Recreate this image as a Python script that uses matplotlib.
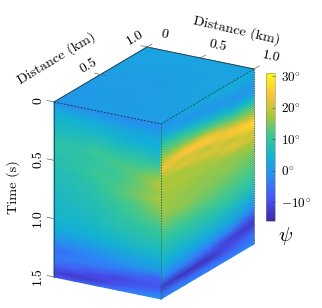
import matplotlib
matplotlib.use("Agg")
import matplotlib.pyplot as plt
import numpy as np
from matplotlib.colors import LinearSegmentedColormap, Normalize
from matplotlib.cm import ScalarMappable

plt.rcParams['font.family'] = ['cmr10', 'DejaVu Sans']
plt.rcParams['mathtext.fontset'] = 'cm'
plt.rcParams['axes.formatter.use_mathtext'] = True

# parula-like colours
parula = [(0.2422, 0.1504, 0.6603), (0.2810, 0.3228, 0.9579), (0.1786, 0.5289, 0.9682),
          (0.0689, 0.6948, 0.8394), (0.2161, 0.7843, 0.5923), (0.6720, 0.7793, 0.2227),
          (0.9970, 0.7659, 0.2199), (0.9769, 0.9839, 0.0805)]
cmap = LinearSegmentedColormap.from_list("parula", parula)
norm = Normalize(-16, 31)

# front-left face
dist_left = [0, 0.2, 0.4, 0.6, 0.8, 1.0]
time_left = [0, 0.03, 0.1, 0.2, 0.3, 0.36, 0.42, 0.48, 0.54, 0.6, 0.66, 0.72, 0.8, 0.9, 1.0, 1.1, 1.2, 1.27, 1.33, 1.4, 1.46, 1.5]
psi_left = [
    [-1, -1, -1, -1, -1, 0],
    [1, 0, 0, -1, -1, -1],
    [4, 4, 3, 2, 2, 2],
    [6, 6, 6, 5, 4, 4],
    [8, 8, 9, 8, 8, 7],
    [9, 9, 11, 10, 10, 10],
    [9, 9, 10, 12, 12, 14],
    [8, 9, 10, 11, 14, 17],
    [8, 9, 11, 11, 14, 19],
    [7, 8, 10, 12, 14, 17],
    [7, 8, 9, 12, 15, 18],
    [7, 7, 9, 11, 13, 16],
    [6, 7, 8, 10, 12, 14],
    [6, 6, 7, 9, 10, 11],
    [5, 5, 6, 7, 8, 9],
    [3, 3, 4, 5, 6, 6],
    [-2, -1, 0, 1, 2, 3],
    [-6, -4, -3, -1, 0, 0],
    [-4, -4, -4, -5, -6, -8],
    [-7, -8, -10, -11, -10, -9],
    [-12, -13, -12, -9, -6, -4],
    [-9, -8, -6, -4, -2, 0],
]

# front-right face
dist_right = [0, 0.25, 0.5, 0.75, 1.0]
time_right = [0, 0.03, 0.08, 0.12, 0.16, 0.2, 0.24, 0.28, 0.32, 0.35, 0.38, 0.41, 0.44, 0.47, 0.5,
              0.54, 0.58, 0.62, 0.66, 0.7, 0.8, 0.9, 1.0, 1.1, 1.2, 1.27, 1.33, 1.4, 1.46, 1.5]
psi_right = [
    [0, 2, 3, 3, 3],
    [-1, 2, 2, 3, 3],
    [2, 0, 1, 2, 2],
    [5, 1, 0, 1, 1],
    [8, 5, 2, 0, 0],
    [11, 9, 5, 2, 1],
    [13, 12, 9, 5, 4],
    [15, 15, 13, 9, 8],
    [18, 20, 18, 13, 12],
    [20, 24, 23, 16, 14],
    [22, 24, 25, 20, 16],
    [23, 20, 23, 24, 20],
    [19, 21, 19, 25, 25],
    [18, 22, 20, 22, 28],
    [17, 18, 22, 19, 25],
    [18, 17, 18, 22, 19],
    [18, 18, 17, 21, 21],
    [17, 17, 17, 17, 18],
    [17, 17, 16, 16, 17],
    [17, 16, 16, 16, 15],
    [16, 16, 15, 14, 13],
    [13, 13, 13, 12, 11],
    [10, 10, 10, 10, 8],
    [7, 7, 7, 6, 3],
    [4, 4, 3, 2, -3],
    [1, 0, -1, -4, -11],
    [-3, -4, -7, -12, -13],
    [-13, -14, -14, -10, -6],
    [-5, -6, -6, -6, -4],
    [-3, -3, -3, -3, -2],
]

# top face
dist_top = [0, 0.5, 1.0]
psi_top = [
    [0, 1, 2],
    [1, 1, 2],
    [1, 2, 2],
]

cbar_ticks = [-10, 0, 10, 20, 30]
cbar_labels = [r'$-10^{\circ}$', r'$0^{\circ}$', r'$10^{\circ}$', r'$20^{\circ}$', r'$30^{\circ}$']
time_ticks = [0, 0.5, 1.0, 1.5]
time_labels = ['0', '0.5', '1.0', '1.5']
dist_ticks = [0, 0.5, 1.0]
dist_labels = ['0', '0.5', '1.0']

# cube corners on the page, pixels
corner_left = np.array([54.0, 102.0])
corner_front = np.array([161.0, 124.0])
corner_right = np.array([254.0, 69.0])
corner_back = np.array([147.0, 47.0])
depth = 175.0


def project(start, end, dist, t):
    # point on a cube face -> page position
    dist = np.asarray(dist, dtype=float)
    t = np.asarray(t, dtype=float)
    x = start[0] + (end[0] - start[0]) * dist
    y = start[1] + (end[1] - start[1]) * dist + depth * t / 1.5
    return x, y


fig = plt.figure(figsize=(3.22, 3.08), dpi=100)
ax = fig.add_axes([0, 0, 1, 1])
ax.set_xlim(0, 322)
ax.set_ylim(308, 0)
ax.axis('off')

# faces
d, t = np.meshgrid(dist_left, time_left)
x, y = project(corner_left, corner_front, d, t)
ax.pcolormesh(x, y, np.array(psi_left), shading='gouraud', cmap=cmap, norm=norm)

d, t = np.meshgrid(dist_right, time_right)
x, y = project(corner_front, corner_right, d, t)
ax.pcolormesh(x, y, np.array(psi_right), shading='gouraud', cmap=cmap, norm=norm)

u, v = np.meshgrid(dist_top, dist_top)
x = corner_left[0] + (corner_back[0] - corner_left[0]) * u + (corner_front[0] - corner_left[0]) * v
y = corner_left[1] + (corner_back[1] - corner_left[1]) * u + (corner_front[1] - corner_left[1]) * v
ax.pcolormesh(x, y, np.array(psi_top), shading='gouraud', cmap=cmap, norm=norm)

# box edges
bottom_left = corner_left + [0, depth]
bottom_front = corner_front + [0, depth]
bottom_right = corner_right + [0, depth]
ax.plot(*zip(corner_left, corner_back, corner_right), color='#303840', lw=0.6)
ax.plot(*zip(corner_left, bottom_left), color='#1f5a70', lw=0.8)
ax.plot(*zip(corner_left, corner_front), color='#20305a', lw=0.7, ls=(0, (2, 1.5)))
ax.plot(*zip(corner_front, corner_right), color='#0b5a50', lw=0.7, ls=(0, (2, 1.5)))
ax.plot(*zip(corner_front, bottom_front), color='#2a7060', lw=0.8, ls=(0, (1.2, 1.2)))
ax.plot(*zip(corner_right, bottom_right), color='#555555', lw=0.7, ls=(0, (1.2, 1.2)))

# ticks and labels
tick_col = '#666666'
for val, lab in zip(time_ticks, time_labels):
    px, py = project(corner_left, corner_front, 0, val)
    ax.plot([px - 7, px], [py - 1.5, py], color=tick_col, lw=0.5)
    ax.text(38, py - 1, lab, rotation=90, ha='center', va='center', fontsize=10)

for val, lab in zip(dist_ticks, dist_labels):
    px = corner_left[0] + (corner_back[0] - corner_left[0]) * val
    py = corner_left[1] + (corner_back[1] - corner_left[1]) * val
    if val > 0:
        ax.plot([px - 6, px + 6], [py - 1.3, py + 1.3], color=tick_col, lw=0.5)
        ax.text(px - 12, py - 9, lab, rotation=30, ha='center', va='center', fontsize=10)
    px2 = corner_back[0] + (corner_right[0] - corner_back[0]) * val
    py2 = corner_back[1] + (corner_right[1] - corner_back[1]) * val
    ax.plot([px2, px2 + 5], [py2, py2 - 3], color=tick_col, lw=0.5)
    ax.text(px2 + 17, py2 - 12, lab, rotation=-12, ha='center', va='center', fontsize=10)

ax.text(56, 58, 'Distance (km)', rotation=31, ha='center', va='center', fontsize=10.2)
ax.text(237, 30, 'Distance (km)', rotation=-13, ha='center', va='center', fontsize=10.2)
ax.text(13, 187, 'Time (s)', rotation=90, ha='center', va='center', fontsize=10.2)
ax.text(286, 236, r'$\psi$', ha='center', va='center', fontsize=15)

# colorbar
cax = fig.add_axes([266 / 322, (308 - 221) / 308, 9 / 322, 148 / 308])
cb = fig.colorbar(ScalarMappable(norm=norm, cmap=cmap), cax=cax)
cb.set_ticks(cbar_ticks)
cb.set_ticklabels(cbar_labels)
cb.ax.tick_params(labelsize=9.5, length=2, width=0.4, direction='in', pad=4, color='#444444')
cb.outline.set_linewidth(0.4)
cb.outline.set_edgecolor('#888888')

fig.savefig('out.png', dpi=100)
